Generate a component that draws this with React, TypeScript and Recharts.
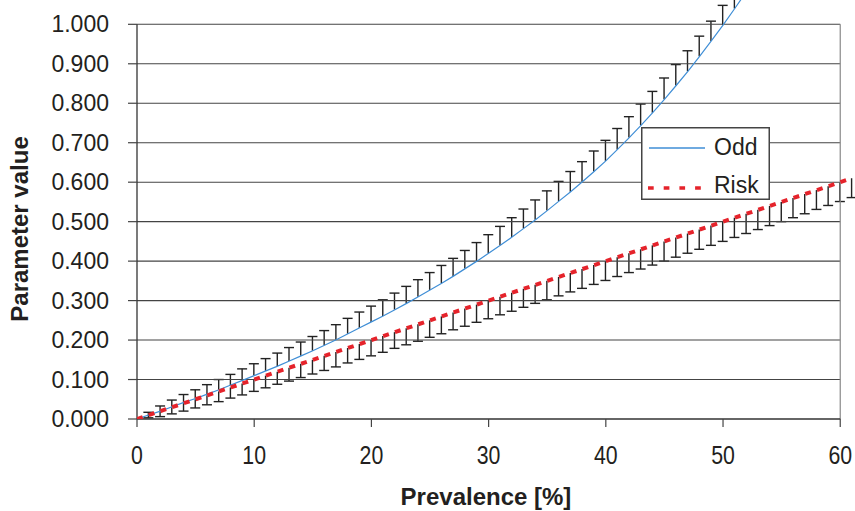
import {
  ComposedChart,
  Line,
  Bar,
  XAxis,
  YAxis,
  Legend,
  ReferenceLine,
} from "recharts";

const prevalence = [
  0, 1, 2, 3, 4, 5, 6, 7, 8, 9, 10, 11, 12, 13, 14, 15, 16, 17, 18, 19, 20,
  21, 22, 23, 24, 25, 26, 27, 28, 29, 30, 31, 32, 33, 34, 35, 36, 37, 38, 39,
  40, 41, 42, 43, 44, 45, 46, 47, 48, 49, 50, 51, 52, 53, 54, 55, 56, 57, 58,
  59, 60, 61,
];

const oddValues = [
  0.0, 0.01, 0.02, 0.031, 0.042, 0.052, 0.063, 0.074, 0.086, 0.098, 0.11,
  0.122, 0.134, 0.147, 0.16, 0.173, 0.187, 0.201, 0.216, 0.231, 0.246, 0.261,
  0.277, 0.293, 0.31, 0.327, 0.344, 0.362, 0.381, 0.4, 0.42, 0.44, 0.461,
  0.483, 0.505, 0.528, 0.552, 0.576, 0.601, 0.627, 0.654, 0.683, 0.713, 0.744,
  0.776, 0.81, 0.845, 0.881, 0.919, 0.958, 0.998, 1.04, 1.083,
];

const oddError = [
  0, 0.007, 0.013, 0.017, 0.02, 0.022, 0.024, 0.026, 0.027, 0.029, 0.03,
  0.031, 0.033, 0.034, 0.035, 0.036, 0.037, 0.038, 0.039, 0.04, 0.04, 0.041,
  0.042, 0.043, 0.043, 0.044, 0.045, 0.045, 0.046, 0.047, 0.047, 0.048, 0.049,
  0.049, 0.05, 0.05, 0.05, 0.051, 0.051, 0.052, 0.052, 0.053, 0.053, 0.054,
  0.054, 0.054, 0.053, 0.052, 0.051, 0.05, 0.05, 0.05, 0.05,
];

const riskValues = [
  0.0, 0.01, 0.02, 0.03, 0.04, 0.05, 0.06, 0.07, 0.08, 0.09, 0.1, 0.11, 0.12,
  0.13, 0.14, 0.15, 0.16, 0.17, 0.18, 0.19, 0.2, 0.21, 0.22, 0.23, 0.24, 0.25,
  0.26, 0.27, 0.28, 0.29, 0.3, 0.31, 0.32, 0.33, 0.34, 0.35, 0.36, 0.37, 0.38,
  0.39, 0.4, 0.41, 0.42, 0.43, 0.44, 0.45, 0.46, 0.47, 0.48, 0.49, 0.5, 0.51,
  0.52, 0.53, 0.54, 0.55, 0.56, 0.57, 0.58, 0.59, 0.6, 0.61,
];

const riskError = [
  0, 0.007, 0.014, 0.017, 0.02, 0.022, 0.024, 0.026, 0.027, 0.029, 0.03,
  0.031, 0.032, 0.034, 0.035, 0.036, 0.037, 0.038, 0.038, 0.039, 0.04, 0.041,
  0.041, 0.042, 0.043, 0.043, 0.044, 0.044, 0.045, 0.045, 0.046, 0.046, 0.047,
  0.047, 0.047, 0.048, 0.048, 0.048, 0.049, 0.049, 0.049, 0.049, 0.049, 0.05,
  0.05, 0.05, 0.05, 0.05, 0.05, 0.05, 0.05, 0.05, 0.05, 0.05, 0.05, 0.05,
  0.05, 0.05, 0.049, 0.049, 0.049, 0.049,
];

const xTicks = [0, 10, 20, 30, 40, 50, 60];
const yTicks = [0, 0.1, 0.2, 0.3, 0.4, 0.5, 0.6, 0.7, 0.8, 0.9, 1.0];

const FONT = '"Liberation Sans", Arial, Helvetica, sans-serif';
const BLUE = "#3f8ed6";
const RED = "#e5232b";
const INK = "#231f20";

const data = prevalence.map((x, i) => {
  const odd = i < oddValues.length ? oddValues[i] : null;
  const oe = i < oddError.length ? oddError[i] : 0;
  const risk = riskValues[i];
  const re = riskError[i];
  return {
    x,
    odd,
    risk,
    oddBar: odd != null && oe > 0 ? [odd, odd + oe] : null,
    riskBar: re > 0 ? [risk - re, risk] : null,
  };
});

// error whisker drawn inside the bar's band: stem + one cap
function whisker(capAtTop: boolean) {
  return (props: any) => {
    const { x, y, width, height } = props;
    if (x == null || y == null || !height) return <g />;
    const cx = x + width / 2;
    const capY = capAtTop ? y : y + height;
    return (
      <g stroke="#222" strokeWidth={1.4}>
        <line x1={cx} y1={y} x2={cx} y2={y + height} />
        <line x1={cx - 5} y1={capY} x2={cx + 5} y2={capY} />
      </g>
    );
  };
}

// condensed-looking x tick labels
function XTick(props: any) {
  const { x, y, payload } = props;
  return (
    <text
      transform={`translate(${x},${y}) scale(0.82,1)`}
      textAnchor="middle"
      dy="0.71em"
      fontSize={26}
      fontFamily={FONT}
      fill={INK}
    >
      {payload.value}
    </text>
  );
}

function LegendBox() {
  return (
    <svg width={130} height={74} style={{ display: "block" }}>
      <rect x={0.75} y={0.75} width={127.5} height={71.5} fill="#fff" stroke="#444" strokeWidth={1.5} />
      <line x1={8} y1={21} x2={64} y2={21} stroke={BLUE} strokeWidth={1.3} />
      <text x={73} y={27.5} fontSize={23} fontFamily={FONT} fill={INK}>
        Odd
      </text>
      <line x1={7} y1={61} x2={64} y2={61} stroke={RED} strokeWidth={3.3} strokeDasharray="5.7 10" />
      <text x={73} y={65.5} fontSize={23} fontFamily={FONT} fill={INK}>
        Risk
      </text>
    </svg>
  );
}

export default function App() {
  return (
    <div style={{ position: "absolute", left: 0, top: 0, background: "#fff" }}>
      <ComposedChart
        width={855}
        height={511}
        data={data}
        margin={{ top: 0, right: 0, left: 0, bottom: 0 }}
        barSize={11}
        barGap={-11}
      >
        <XAxis
          dataKey="x"
          type="number"
          domain={[0, 61.26]}
          allowDataOverflow
          ticks={xTicks}
          interval={0}
          axisLine={false}
          tickSize={8}
          tickMargin={19}
          tickLine={{ stroke: "#444", strokeWidth: 1.2 }}
          tick={<XTick />}
          height={92}
          label={{
            content: () => (
              <text x={486} y={505} textAnchor="middle" fontSize={24} fontWeight="bold" fontFamily={FONT} fill={INK}>
                Prevalence [%]
              </text>
            ),
          }}
        />
        <YAxis
          type="number"
          domain={[0, 1.0616]}
          allowDataOverflow
          ticks={yTicks}
          interval={0}
          axisLine={false}
          tickFormatter={(v: number) => v.toFixed(3)}
          tickSize={9}
          tickMargin={19}
          tickLine={{ stroke: "#444", strokeWidth: 1.2 }}
          tick={{ fontSize: 23, fill: INK, fontFamily: FONT }}
          width={137}
          label={{
            content: () => (
              <text
                x={28}
                y={229}
                transform="rotate(-90 28 229)"
                textAnchor="middle"
                fontSize={24}
                fontWeight="bold"
                fontFamily={FONT}
                fill={INK}
              >
                Parameter value
              </text>
            ),
          }}
        />

        {yTicks.slice(1).map((v) => (
          <ReferenceLine
            key={v}
            segment={[
              { x: 0, y: v },
              { x: 60, y: v },
            ]}
            stroke="#444"
            strokeWidth={1.1}
          />
        ))}
        <ReferenceLine
          segment={[
            { x: 60, y: 0 },
            { x: 60, y: 1 },
          ]}
          stroke="#888"
          strokeWidth={1.2}
        />
        <ReferenceLine
          segment={[
            { x: 0, y: 0 },
            { x: 60, y: 0 },
          ]}
          stroke="#333"
          strokeWidth={1.3}
        />
        <ReferenceLine
          segment={[
            { x: 0, y: 0 },
            { x: 0, y: 1 },
          ]}
          stroke="#333"
          strokeWidth={1.3}
        />

        <Bar dataKey="riskBar" legendType="none" shape={whisker(false)} isAnimationActive={false} />
        <Bar dataKey="oddBar" legendType="none" shape={whisker(true)} isAnimationActive={false} />

        <Line
          dataKey="odd"
          name="Odd"
          type="linear"
          stroke={BLUE}
          strokeWidth={1.2}
          dot={false}
          activeDot={false}
          connectNulls={false}
          isAnimationActive={false}
        />
        <Line
          dataKey="risk"
          name="Risk"
          type="linear"
          stroke={RED}
          strokeWidth={4}
          strokeDasharray="6 6.37"
          dot={false}
          activeDot={false}
          isAnimationActive={false}
        />

        <Legend
          layout="horizontal"
          verticalAlign="middle"
          align="center"
          wrapperStyle={{ position: "absolute", left: 641, top: 127, width: 130, height: 74 }}
          content={() => <LegendBox />}
        />
      </ComposedChart>
    </div>
  );
}
